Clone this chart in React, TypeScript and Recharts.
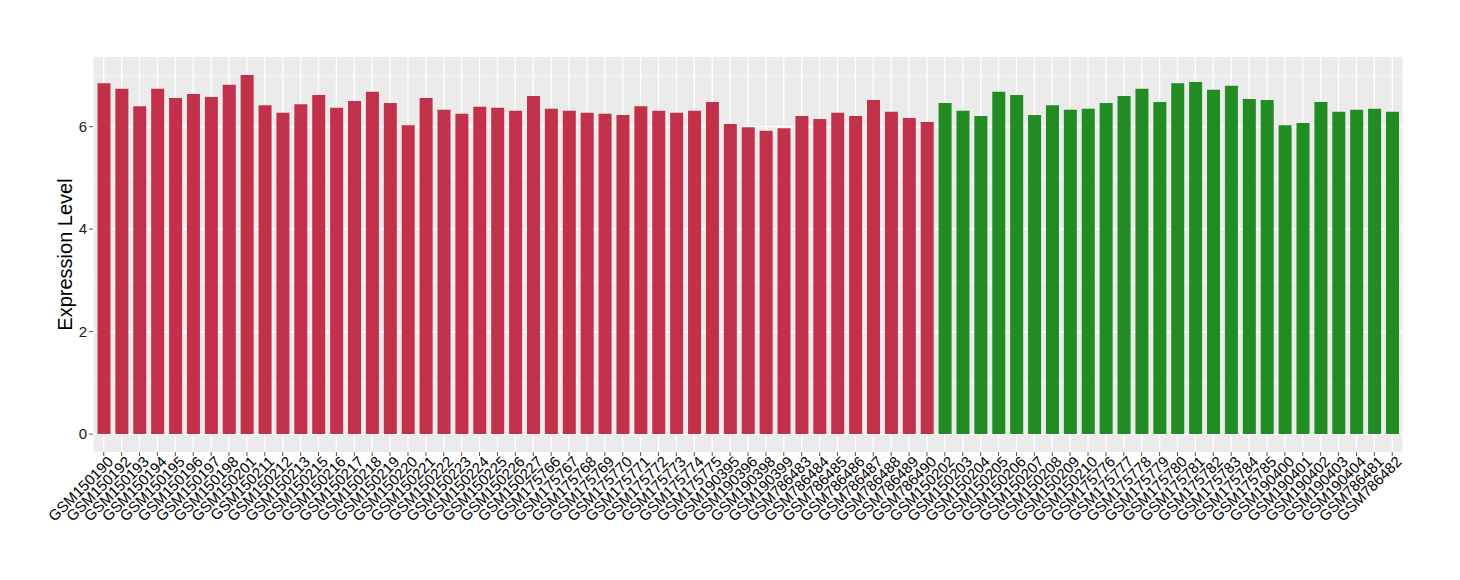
import { Bar, BarChart, CartesianGrid, Cell, XAxis, YAxis } from 'recharts';

const SAMPLES = [
  'GSM150190', 'GSM150192', 'GSM150193', 'GSM150194', 'GSM150195', 'GSM150196', 'GSM150197', 'GSM150198',
  'GSM150201', 'GSM150211', 'GSM150212', 'GSM150213', 'GSM150215', 'GSM150216', 'GSM150217', 'GSM150218',
  'GSM150219', 'GSM150220', 'GSM150221', 'GSM150222', 'GSM150223', 'GSM150224', 'GSM150225', 'GSM150226',
  'GSM150227', 'GSM175766', 'GSM175767', 'GSM175768', 'GSM175769', 'GSM175770', 'GSM175771', 'GSM175772',
  'GSM175773', 'GSM175774', 'GSM175775', 'GSM190395', 'GSM190396', 'GSM190398', 'GSM190399', 'GSM786483',
  'GSM786484', 'GSM786485', 'GSM786486', 'GSM786487', 'GSM786488', 'GSM786489', 'GSM786490',
  'GSM150202', 'GSM150203', 'GSM150204', 'GSM150205', 'GSM150206', 'GSM150207', 'GSM150208', 'GSM150209',
  'GSM150210', 'GSM175776', 'GSM175777', 'GSM175778', 'GSM175779', 'GSM175780', 'GSM175781', 'GSM175782',
  'GSM175783', 'GSM175784', 'GSM175785', 'GSM190400', 'GSM190401', 'GSM190402', 'GSM190403', 'GSM190404',
  'GSM786481', 'GSM786482',
];

const EXPRESSION = [
  6.85, 6.74, 6.40, 6.74, 6.56, 6.64, 6.58, 6.82, 7.01, 6.42, 6.27, 6.44, 6.62, 6.37, 6.50, 6.68,
  6.46, 6.03, 6.56, 6.33, 6.25, 6.39, 6.37, 6.31, 6.60, 6.35, 6.31, 6.27, 6.25, 6.23, 6.40, 6.31,
  6.27, 6.31, 6.48, 6.05, 5.99, 5.92, 5.97, 6.21, 6.15, 6.27, 6.21, 6.52, 6.29, 6.17, 6.09,
  6.46, 6.31, 6.21, 6.68, 6.62, 6.23, 6.42, 6.33, 6.35, 6.46, 6.60, 6.74, 6.48, 6.85, 6.87, 6.72,
  6.80, 6.54, 6.52, 6.03, 6.07, 6.48, 6.29, 6.33, 6.35, 6.29,
];

// 47 samples in the first group, 26 in the second
const GROUP = SAMPLES.map((_, i) => (i < 47 ? 'A' : 'B'));

const GROUP_COLORS: Record<string, string> = { A: '#C2314A', B: '#228B22' };

const Y_TICKS = [0, 2, 4, 6];
const Y_MINOR = [1, 3, 5, 7];

const data = SAMPLES.map((name, i) => ({ name, value: EXPRESSION[i], group: GROUP[i] }));

const FONT = '"Liberation Sans", Arial, Helvetica, sans-serif';

function XTick({ x, y, payload }: any) {
  return (
    <text
      x={x}
      y={y + 2}
      dx={4}
      dy="0.71em"
      textAnchor="end"
      transform={`rotate(-45 ${x} ${y + 2})`}
      fontSize={15}
      fontFamily={FONT}
      fill="#000"
    >
      {payload.value}
    </text>
  );
}

function YTitle({ viewBox }: any) {
  const cx = viewBox.x + 65;
  const cy = viewBox.y + viewBox.height / 2;
  return (
    <text
      x={cx}
      y={cy}
      textAnchor="middle"
      dominantBaseline="central"
      transform={`rotate(-90 ${cx} ${cy})`}
      fontSize={20}
      fontFamily={FONT}
      fill="#000"
    >
      Expression Level
    </text>
  );
}

export default function App() {
  return (
    <div style={{ position: 'absolute', left: 0, top: 0, width: 1460, height: 580, background: '#fff' }}>
      <BarChart
        width={1460}
        height={580}
        data={data}
        margin={{ top: 57, right: 57, bottom: 0, left: 0 }}
        barCategoryGap="15%"
      >
        <CartesianGrid fill="#EBEBEB" stroke="#FFFFFF" strokeWidth={1.3} horizontalValues={Y_TICKS} vertical />
        <CartesianGrid stroke="#FFFFFF" strokeWidth={0.6} horizontalValues={Y_MINOR} vertical={false} />
        <XAxis
          dataKey="name"
          interval={0}
          axisLine={false}
          tickLine={{ stroke: '#555555' }}
          tickSize={4}
          tickMargin={0}
          height={128}
          padding={{ left: 1.8, right: 1.8 }}
          tick={<XTick />}
        />
        <YAxis
          type="number"
          domain={[-0.35, 7.36]}
          allowDataOverflow
          ticks={Y_TICKS}
          width={93}
          axisLine={false}
          tickLine={{ stroke: '#555555' }}
          tickSize={4}
          tickMargin={2}
          tick={{ fontSize: 15, fontFamily: FONT, fill: '#1A1A1A' }}
          label={{ content: <YTitle /> }}
        />
        <Bar dataKey="value" isAnimationActive={false}>
          {data.map((d) => (
            <Cell key={d.name} fill={GROUP_COLORS[d.group]} />
          ))}
        </Bar>
      </BarChart>
    </div>
  );
}
